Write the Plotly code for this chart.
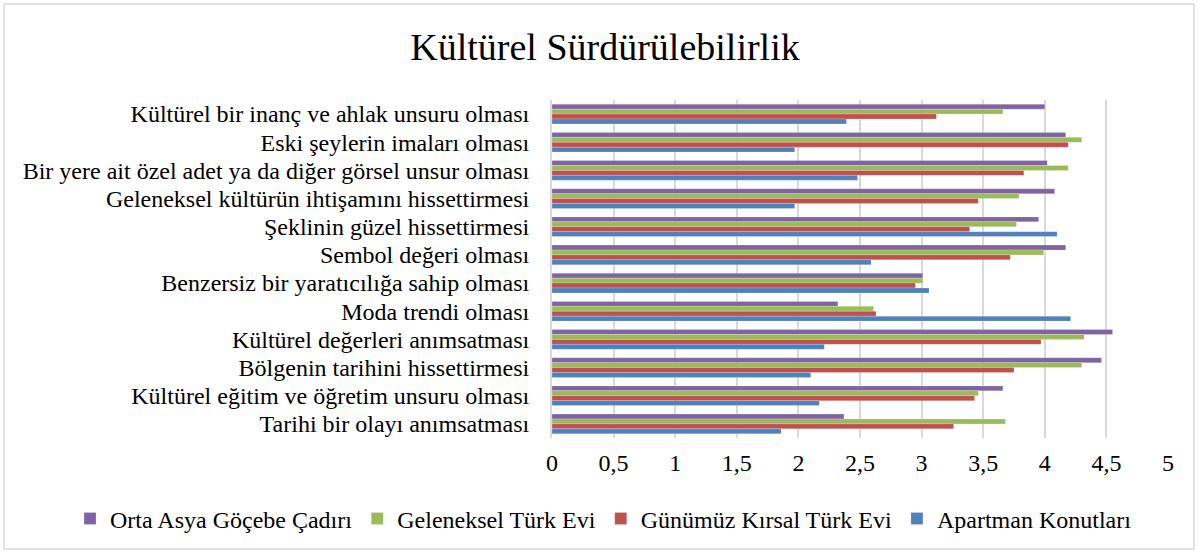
import plotly.graph_objects as go

categories = [
    "Kültürel bir inanç ve ahlak unsuru olması",
    "Eski şeylerin imaları olması",
    "Bir yere ait özel adet ya da diğer görsel unsur olması",
    "Geleneksel kültürün ihtişamını hissettirmesi",
    "Şeklinin güzel hissettirmesi",
    "Sembol değeri olması",
    "Benzersiz bir yaratıcılığa sahip olması",
    "Moda trendi olması",
    "Kültürel değerleri anımsatması",
    "Bölgenin tarihini hissettirmesi",
    "Kültürel eğitim ve öğretim unsuru olması",
    "Tarihi bir olayı anımsatması",
]

orta_asya = [4.00, 4.17, 4.02, 4.08, 3.95, 4.17, 3.01, 2.32, 4.55, 4.46, 3.66, 2.37]
geleneksel = [3.66, 4.30, 4.19, 3.79, 3.77, 3.99, 3.01, 2.61, 4.32, 4.30, 3.46, 3.68]
gunumuz = [3.12, 4.19, 3.83, 3.46, 3.39, 3.72, 2.95, 2.63, 3.97, 3.75, 3.43, 3.26]
apartman = [2.39, 1.97, 2.48, 1.97, 4.10, 2.59, 3.06, 4.21, 2.21, 2.10, 2.17, 1.86]

series_names = ["Orta Asya Göçebe Çadırı", "Geleneksel Türk Evi",
                "Günümüz Kırsal Türk Evi", "Apartman Konutları"]
series_values = [orta_asya, geleneksel, gunumuz, apartman]
colors = ["#8064A2", "#9BBB59", "#C0504D", "#4F81BD"]
tick_vals = [0, 0.5, 1, 1.5, 2, 2.5, 3, 3.5, 4, 4.5, 5]

FONT = "Times New Roman, Liberation Serif, serif"

fig = go.Figure()
for name, vals, col in zip(series_names, series_values, colors):
    fig.add_trace(go.Bar(
        y=categories, x=vals, name=name, orientation="h",
        marker=dict(color=col, line=dict(color="rgba(255,255,255,0.35)", width=0.6)),
    ))

L, R, T, B = 552, 30, 100, 115
W, H = 1198, 553
pw, ph = W - L - R, H - T - B

fig.update_layout(
    width=W, height=H,
    barmode="group", bargap=0.3, bargroupgap=0,
    separators=", ",
    paper_bgcolor="white", plot_bgcolor="white",
    margin=dict(l=L, r=R, t=T, b=B, autoexpand=False),
    font=dict(family=FONT, size=24, color="black"),
    title=dict(text="Kültürel Sürdürülebilirlik", x=605 / W, xanchor="center",
               y=1 - 47 / H, yanchor="middle", yref="container",
               font=dict(family=FONT, size=38, color="black")),
    showlegend=True,
    legend=dict(orientation="h", x=(70 - L) / pw, xanchor="left",
                y=-(519 - (T + ph)) / ph, yanchor="middle",
                font=dict(family=FONT, size=24), traceorder="normal",
                itemwidth=30, tracegroupgap=0),
    xaxis=dict(range=[0, 5], tickvals=tick_vals, showgrid=True,
               gridcolor="#D9D9D9", gridwidth=2, zeroline=False,
               showline=False, ticks="", ticklabelstandoff=8, automargin=False,
               tickfont=dict(family=FONT, size=24)),
    yaxis=dict(autorange="reversed", showgrid=False, showline=True,
               tickmode="array", tickvals=categories,
               linecolor="#D9D9D9", linewidth=2, ticks="", automargin=False,
               ticklabelstandoff=16, tickfont=dict(family=FONT, size=24)),
    shapes=[dict(type="rect", xref="paper", yref="paper",
                 x0=(4 - L) / pw, x1=(1194 - L) / pw,
                 y0=-(549 - (T + ph)) / ph, y1=((T + ph) - 4) / ph,
                 line=dict(color="#D9D9D9", width=1.5), layer="below")],
)

fig.write_html(
    "out.html",
    config={"displayModeBar": False},
    post_script="document.body.style.margin='0';document.body.style.overflow='hidden';",
)
